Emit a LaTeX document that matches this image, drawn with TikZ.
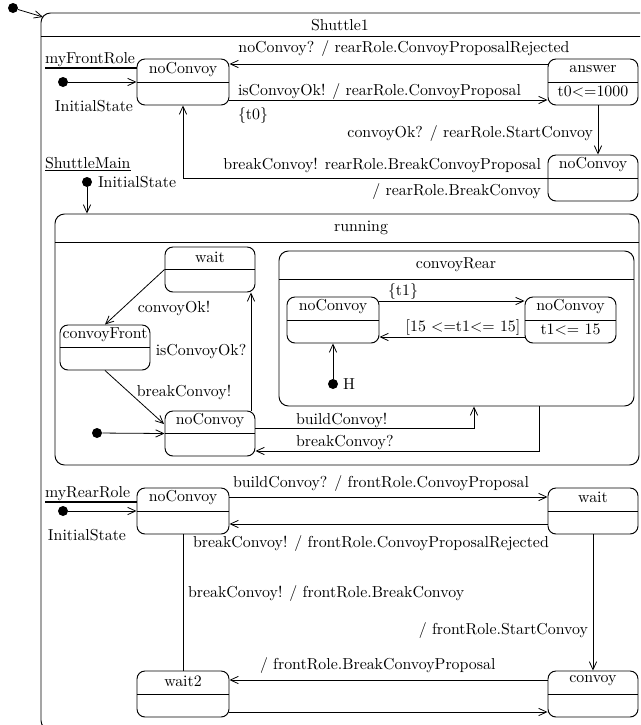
\documentclass[tikz,border=0pt]{standalone}
\usetikzlibrary{arrows.meta,fit,calc}
\begin{document}
\begin{tikzpicture}[x=0.63pt,y=-0.63pt,
  box/.style={draw, rounded corners=5pt, inner sep=0pt, line width=0.6pt},
  bigbox/.style={draw, rounded corners=6pt, inner sep=0pt, line width=0.6pt},
  arr/.style={-{Straight Barb[length=5pt,width=4.6pt]}, line width=0.5pt},
  ln/.style={line width=0.5pt},
  lbl/.style={inner sep=0pt, outer sep=0pt},
  dot/.style={circle, fill, inner sep=0pt, minimum size=6.3pt},
  roleline/.style={line width=1.4pt}]
\useasboundingbox (0,0) rectangle (640,725);
\clip (0,0) rectangle (640,725);

% ---------- outer Shuttle1 ----------
\node[bigbox, fit={(41,13) (652,730)}] (shuttle) {};
\draw[ln] (41,36) -- (652,36);
\node[lbl] (tshuttle) at (340,25) {Shuttle1};
\node[dot] (d0) at (13,8) {};
\coordinate (s0) at (43,17);
\draw[arr] (d0) -- (s0);

% ---------- front role ----------
\node[lbl, anchor=base west] (tfront) at (45,63.5) {myFrontRole};
\draw[roleline] (45,68) -- (137,68);
\node[box, fit={(137,59) (229,105)}] (fnc) {};
\draw[ln] (fnc.west) -- (fnc.east);
\node[lbl] (tfnc) at (183,70) {noConvoy};
\node[dot] (d1) at (63,82) {};
\draw[arr] (d1) -- (fnc.west);
\node[lbl] (tinit1) at (94,106) {InitialState};

\node[box, fit={(548,59) (638,105)}] (ans) {};
\draw[ln] (ans.west) -- (ans.east);
\node[lbl] (tans) at (593,69) {answer};
\node[lbl] (tans2) at (593,92) {t0<=1000};

\node[box, fit={(548,155) (638,201)}] (fnc2) {};
\draw[ln] (fnc2.west) -- (fnc2.east);
\node[lbl] (tfnc2) at (593,165) {noConvoy};

\draw[arr] (ans.west |- 0,64) -- (fnc.east |- 0,64);
\node[lbl] (l1) at (404,49) {noConvoy? / rearRole.ConvoyProposalRejected};
\draw[arr] (fnc.east |- 0,100) -- (ans.west |- 0,100);
\node[lbl, anchor=base west] (l2) at (238,95) {isConvoyOk! / rearRole.ConvoyProposal};
\node[lbl, anchor=base west] (l3) at (238,119) {\{t0\}};
\draw[arr] (ans.south -| 598,0) -- (fnc2.north -| 598,0);
\node[lbl, anchor=base east] (l4) at (593,137) {convoyOk? / rearRole.StartConvoy};
\draw[arr] (fnc2.west) -| (fnc.south -| 183,0);
\node[lbl, anchor=base east] (l5) at (541,169) {breakConvoy! rearRole.BreakConvoyProposal};
\node[lbl, anchor=base east] (l6) at (541,195) {/ rearRole.BreakConvoy};

% ---------- ShuttleMain ----------
\node[lbl, anchor=base west] (tmain) at (45,168) {\underline{ShuttleMain}};
\node[dot] (d2) at (87,182) {};
\node[lbl, anchor=west] (tinit2) at (98,182) {InitialState};

\node[bigbox, fit={(55,214) (639,465)}] (run) {};
\draw[ln] (55,242) -- (639,242);
\node[lbl] (trun) at (361,228) {running};
\draw[arr] (d2) -- (run.north -| 87,0);

\node[box, fit={(165,247) (255,292)}] (wait) {};
\draw[ln] (wait.west) -- (wait.east);
\node[lbl] (twait) at (210,257) {wait};

\node[box, fit={(60,325) (150,370)}] (cf) {};
\draw[ln] (cf.west) -- (cf.east);
\node[lbl] (tcf) at (105,335) {convoyFront};

\node[box, fit={(165,411) (255,456)}] (rnc) {};
\draw[ln] (rnc.west) -- (rnc.east);
\node[lbl] (trnc) at (210,421) {noConvoy};

\draw[arr] (wait.west) -- (cf.north);
\node[lbl] (l7) at (174,308) {convoyOk!};
\draw[arr] (cf.south) -- (164,424);
\node[lbl] (l8) at (184,392) {breakConvoy!};
\draw[arr] (rnc.north -| 251,0) -- (wait.south -| 251,0);
\node[lbl] (l9) at (201,352) {isConvoyOk?};
\node[dot] (d3) at (97,433) {};
\draw[arr] (d3) -- (rnc.west);

\node[bigbox, fit={(279,251) (634,406)}] (cr) {};
\draw[ln] (279,279) -- (634,279);
\node[lbl] (tcr) at (456,265) {convoyRear};

\node[box, fit={(287,297) (379,343)}] (cn1) {};
\draw[ln] (cn1.west) -- (cn1.east);
\node[lbl] (tcn1) at (333,307) {noConvoy};
\node[box, fit={(525,297) (616,343)}] (cn2) {};
\draw[ln] (cn2.west) -- (cn2.east);
\node[lbl] (tcn2) at (570.5,307) {noConvoy};
\node[lbl] (tcn2b) at (570.5,330) {t1<= 15};

\draw[arr] (cn1.east |- 0,301) -- (cn2.west |- 0,301);
\node[lbl] (l10) at (403,292) {\{t1\}};
\draw[arr] (cn2.west |- 0,337) -- (cn1.east |- 0,337);
\node[lbl] (l11) at (463,328) {[15 <=t1<= 15]};
\node[dot] (dh) at (333,384) {};
\node[lbl, anchor=west] (th) at (343,384) {H};
\draw[arr] (dh) -- (cn1.south);

\draw[arr] (rnc.east |- 0,428) -| (cr.south -| 474,0);
\node[lbl, anchor=base west] (l12) at (296,424) {buildConvoy!};
\draw[arr] (cr.south -| 539,0) |- (rnc.east |- 0,451);
\node[lbl, anchor=base west] (l13) at (296,446) {breakConvoy?};

% ---------- rear role ----------
\node[lbl, anchor=base west] (trear) at (45,497) {myRearRole};
\draw[roleline] (45,502) -- (137,502);
\node[box, fit={(137,488) (229,534)}] (rn) {};
\draw[ln] (rn.west) -- (rn.east);
\node[lbl] (trn) at (183,498) {noConvoy};
\node[dot] (d4) at (63,511) {};
\draw[arr] (d4) -- (rn.west);
\node[lbl] (tinit4) at (87,535) {InitialState};

\node[box, fit={(548,488) (638,534)}] (rw) {};
\draw[ln] (rw.west) -- (rw.east);
\node[lbl] (trw) at (593,497) {wait};

\node[box, fit={(137,671) (229,717)}] (w2) {};
\draw[ln] (w2.west) -- (w2.east);
\node[lbl] (tw2) at (183,681) {wait2};
\node[box, fit={(548,671) (638,717)}] (cv) {};
\draw[ln] (cv.west) -- (cv.east);
\node[lbl] (tcv) at (593,681) {convoy};

\draw[arr] (rn.east |- 0,497) -- (rw.west |- 0,497);
\node[lbl, anchor=base west] (l14) at (233,487) {buildConvoy? / frontRole.ConvoyProposal};
\draw[arr] (rw.west |- 0,524) -- (rn.east |- 0,524);
\node[lbl, anchor=base west] (l15) at (193,547) {breakConvoy! / frontRole.ConvoyProposalRejected};
\draw[ln] (rn.south -| 183,0) -- (w2.north -| 183,0);
\node[lbl, anchor=base west] (l16) at (188,597) {breakConvoy! / frontRole.BreakConvoy};
\draw[arr] (rw.south -| 593,0) -- (cv.north -| 593,0);
\node[lbl, anchor=base east] (l17) at (588,634) {/ frontRole.StartConvoy};
\draw[arr] (cv.west |- 0,680) -- (w2.east |- 0,680);
\node[lbl, anchor=base west] (l18) at (260,669) {/ frontRole.BreakConvoyProposal};
\draw[arr] (w2.east |- 0,712) -- (cv.west |- 0,712);
\end{tikzpicture}
\end{document}
